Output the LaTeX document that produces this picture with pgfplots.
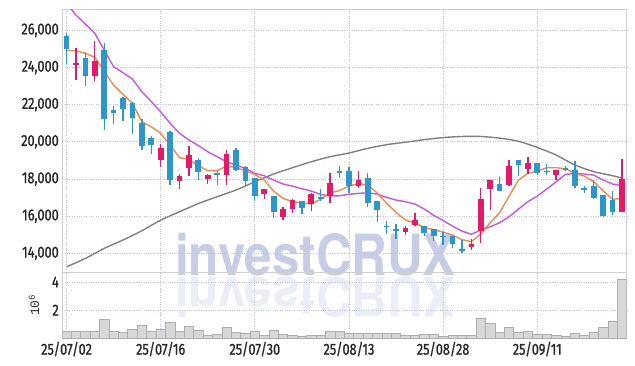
\documentclass[border=0pt]{standalone}
\usepackage{pgfplots}
\pgfplotsset{compat=1.18}
\usepackage{pgfplotstable}
\usepackage{fontspec}
\setmainfont[FakeStretch=0.8, FakeBold=1]{Fira Sans}
\newfontfamily\wmfont{TeX Gyre Heros}
\newfontfamily\monofont{Liberation Mono}
\definecolor{upc}{HTML}{E3196A}
\definecolor{downc}{HTML}{2E97C9}
\definecolor{maA}{HTML}{EE8A4E}
\definecolor{maB}{HTML}{C455E6}
\definecolor{maC}{HTML}{808080}
\definecolor{gridc}{HTML}{BFC3DA}
\definecolor{framec}{HTML}{CFCFCF}
\definecolor{volf}{HTML}{D8D8D8}
\definecolor{vold}{HTML}{ADADAD}
\definecolor{wmc}{HTML}{C7CDE5}

\pgfplotstableread{
i o h l c
0 25700 25850 24200 25000
2 24500 24850 23000 23550
4 24950 25300 20650 21250
5 21700 21950 20950 21550
6 22350 22400 21100 21750
7 22100 22150 20400 21300
8 21000 21250 19550 19800
9 20200 20300 19350 19850
11 20550 20600 17700 17950
14 19050 19150 17950 18400
16 18300 18500 17700 18200
18 19550 19650 18450 18500
19 18650 18700 17600 17900
20 18050 18050 16800 17100
22 17100 17100 15900 16250
25 16800 16800 16100 16450
27 17050 17450 16800 16950
29 18450 18700 18050 18350
30 18450 18650 17250 17650
32 18050 18300 16500 16700
33 16800 16800 15700 16350
34 15500 15750 15050 15400
35 15300 15600 14800 15220
38 15500 15500 14950 15100
39 15300 15300 14650 14950
40 14950 15150 14450 14870
41 14950 14950 14300 14500
42 14250 14700 14000 14170
46 17750 18100 17350 17350
48 19000 19050 18150 18750
50 18850 18850 18200 18350
51 18450 18800 18200 18380
53 18600 18700 18450 18500
54 18500 18950 17500 17600
55 17500 17600 17250 17420
56 17600 17950 16950 17000
57 17150 17150 15950 16000
58 16850 17350 16050 16250
}\down

\pgfplotstableread{
i o h l c
1 24150 25050 23350 24250
3 23550 25400 23300 24350
10 19000 19900 18650 19650
12 17900 18250 17450 18150
13 18600 19800 18150 19300
15 18000 18250 17750 18200
17 18200 19550 17700 19350
21 17200 17450 16900 17450
23 15950 16500 15800 16400
24 16400 16900 16150 16850
26 16650 17250 16300 17200
28 17100 18350 16700 17800
31 17600 18450 17500 17950
36 15150 15500 15000 15350
37 15550 16150 15500 15800
43 14350 14800 14200 14500
44 15200 17500 14550 16950
45 17450 17950 16350 17950
47 17700 19050 17650 18700
49 18550 19200 18250 18850
52 18200 18500 17950 18500
59 16250 19100 16250 18000
}\up

\pgfplotstableread{
i v
0 0.47
1 0.53
2 0.49
3 0.53
4 1.33
5 0.47
6 0.42
7 0.63
8 0.91
9 0.49
10 0.63
11 1.12
12 0.49
13 0.84
14 0.56
15 0.21
16 0.28
17 0.81
18 0.42
19 0.37
20 0.49
21 0.21
22 0.56
23 0.28
24 0.21
25 0.14
26 0.19
27 0.19
28 0.49
29 0.49
30 0.35
31 0.35
32 0.35
33 0.35
34 0.35
35 0.35
36 0.19
37 0.19
38 0.26
39 0.26
40 0.14
41 0.21
42 0.21
43 0.21
44 1.44
45 1.05
46 0.42
47 0.81
48 0.42
49 0.49
50 0.28
51 0.28
52 0.21
53 0.14
54 0.35
55 0.21
56 0.42
57 0.77
58 1.23
59 4.19
}\vol

\begin{document}
\begin{tikzpicture}
\useasboundingbox (-62.3bp,9.3bp) rectangle (572.7bp,-356.7bp);
\node[anchor=base, inner sep=0, font=\wmfont\bfseries\fontsize{57}{57}\selectfont, text=wmc, xscale=0.87] at (253.2bp,-265.7bp) {investCRUX};
\node[anchor=base, inner sep=0, font=\wmfont\bfseries\fontsize{57}{57}\selectfont, text=wmc, opacity=0.35, xscale=0.87, yscale=-0.95] at (253.2bp,-267.7bp) {investCRUX};

\pgfplotsset{
  every tick label/.append style={font=\fontsize{16}{18}\selectfont, text=black!85},
  /pgf/number format/assume math mode=true,
}
\begin{axis}[name=price, at={(0,0)}, anchor=north west, scale only axis,
  width=564.4bp, height=262.7bp,
  xmin=-0.45, xmax=59.5, ymin=13000, ymax=27130,
  xtick={0,10,...,50}, xticklabels={},
  ytick={14000,16000,...,26000},
  scaled y ticks=false,
  yticklabel style={/pgf/number format/.cd, fixed, 1000 sep={,}},
  grid=major, major grid style={dotted, gridc, line width=0.8bp},
  axis line style={framec, line width=1bp},
  major tick length=0pt,
]
% moving averages
\addplot[maC, line width=1.4bp, smooth] coordinates {
(0,13280) (2,13730) (4,14270) (6,14720) (8,15220) (10,15790) (12,16240) (14,16680)
(16,17050) (18,17410) (20,17850) (22,18270) (24,18610) (26,18930) (28,19200) (30,19400)
(32,19650) (34,19850) (36,19980) (38,20120) (40,20230) (42,20290) (44,20290) (46,20200)
(48,20030) (50,19700) (52,19290) (54,18760) (56,18400) (58,18180) (59,18050)};
\addplot[maB, line width=1.4bp] coordinates {
(0,27450) (1,26820) (2,26340) (3,25840) (4,24940) (5,24040) (6,23720) (7,23380) (8,22700)
(9,22160) (10,21620) (11,21000) (12,20460) (13,20100) (14,19800) (15,19470) (16,19200)
(17,18930) (18,18750) (19,18575) (20,18300) (21,18180) (22,17945) (23,17730) (24,17620)
(25,17480) (26,17350) (27,17175) (28,17085) (29,17100) (30,17175) (31,17230) (32,17260)
(33,17190) (34,17010) (35,16870) (36,16780) (37,16655) (38,16385) (39,16045) (40,15770)
(41,15470) (42,15200) (43,15030) (44,15250) (45,15430) (46,15650) (47,15970) (48,16380)
(49,16780) (50,17085) (51,17460) (52,17850) (53,18250) (54,18300) (55,18270) (56,18210)
(57,17945) (58,17730) (59,17640)};
\addplot[maA, line width=1.4bp] coordinates {
(0,24920) (1,24900) (2,24760) (3,24550) (4,23800) (5,23050) (6,22560) (7,22070) (8,21080)
(9,20810) (10,20460) (11,19830) (12,19150) (13,19060) (14,18720) (15,18450) (16,18450)
(17,18710) (18,18610) (19,18450) (20,18240) (21,17950) (22,17350) (23,16960) (24,16780)
(25,16720) (26,16660) (27,16910) (28,17260) (29,17380) (30,17620) (31,17760) (32,17680)
(33,17250) (34,16700) (35,16200) (36,15800) (37,15630) (38,15380) (39,15280) (40,15150)
(41,14980) (42,14740) (43,14630) (44,15050) (45,15650) (46,16190) (47,17070) (48,17940)
(49,18310) (50,18420) (51,18610) (52,18610) (53,18550) (54,18300) (55,18160) (56,17850)
(57,17370) (58,16910) (59,16960)};
% wicks
\addplot[draw=none, mark=none, forget plot, error bars/.cd, y dir=both, y explicit, error mark=none,
  error bar style={draw=downc, line width=1.3bp}]
  table[x=i, y expr={(\thisrow{h}+\thisrow{l})/2}, y error expr={(\thisrow{h}-\thisrow{l})/2}] {\down};
\addplot[draw=none, mark=none, forget plot, error bars/.cd, y dir=both, y explicit, error mark=none,
  error bar style={draw=upc, line width=1.3bp}]
  table[x=i, y expr={(\thisrow{h}+\thisrow{l})/2}, y error expr={(\thisrow{h}-\thisrow{l})/2}] {\up};
% bodies
\addplot[draw=none, mark=none, forget plot, error bars/.cd, y dir=both, y explicit, error mark=none,
  error bar style={draw=downc, line width=5.7bp}]
  table[x=i, y expr={(\thisrow{o}+\thisrow{c})/2}, y error expr={abs(\thisrow{o}-\thisrow{c})/2}] {\down};
\addplot[draw=none, mark=none, forget plot, error bars/.cd, y dir=both, y explicit, error mark=none,
  error bar style={draw=upc, line width=5.7bp}]
  table[x=i, y expr={(\thisrow{o}+\thisrow{c})/2}, y error expr={abs(\thisrow{o}-\thisrow{c})/2}] {\up};
\end{axis}

\begin{axis}[name=volume, at={(price.south west)}, anchor=north west, scale only axis,
  width=564.4bp, height=66.3bp,
  xmin=-0.45, xmax=59.5, ymin=0, ymax=4.71,
  xtick={0,10,...,50},
  xticklabels={25/07/02,25/07/16,25/07/30,25/08/13,25/08/28,25/09/11},
  ytick={2,4},
  ylabel={\monofont 10\textsuperscript{6}},
  ylabel style={font=\fontsize{13}{14}\selectfont, text=black!80, at={(axis description cs:-0.05,0.5)}, anchor=center},
  grid=major, major grid style={dotted, gridc, line width=0.8bp},
  axis line style={framec, line width=1bp},
  major tick length=0pt,
]
\addplot[ybar, bar width=1, bar shift=0pt, fill=volf, draw=vold, line width=0.6bp] table[x=i, y=v] {\vol};
\end{axis}
\end{tikzpicture}
\end{document}
